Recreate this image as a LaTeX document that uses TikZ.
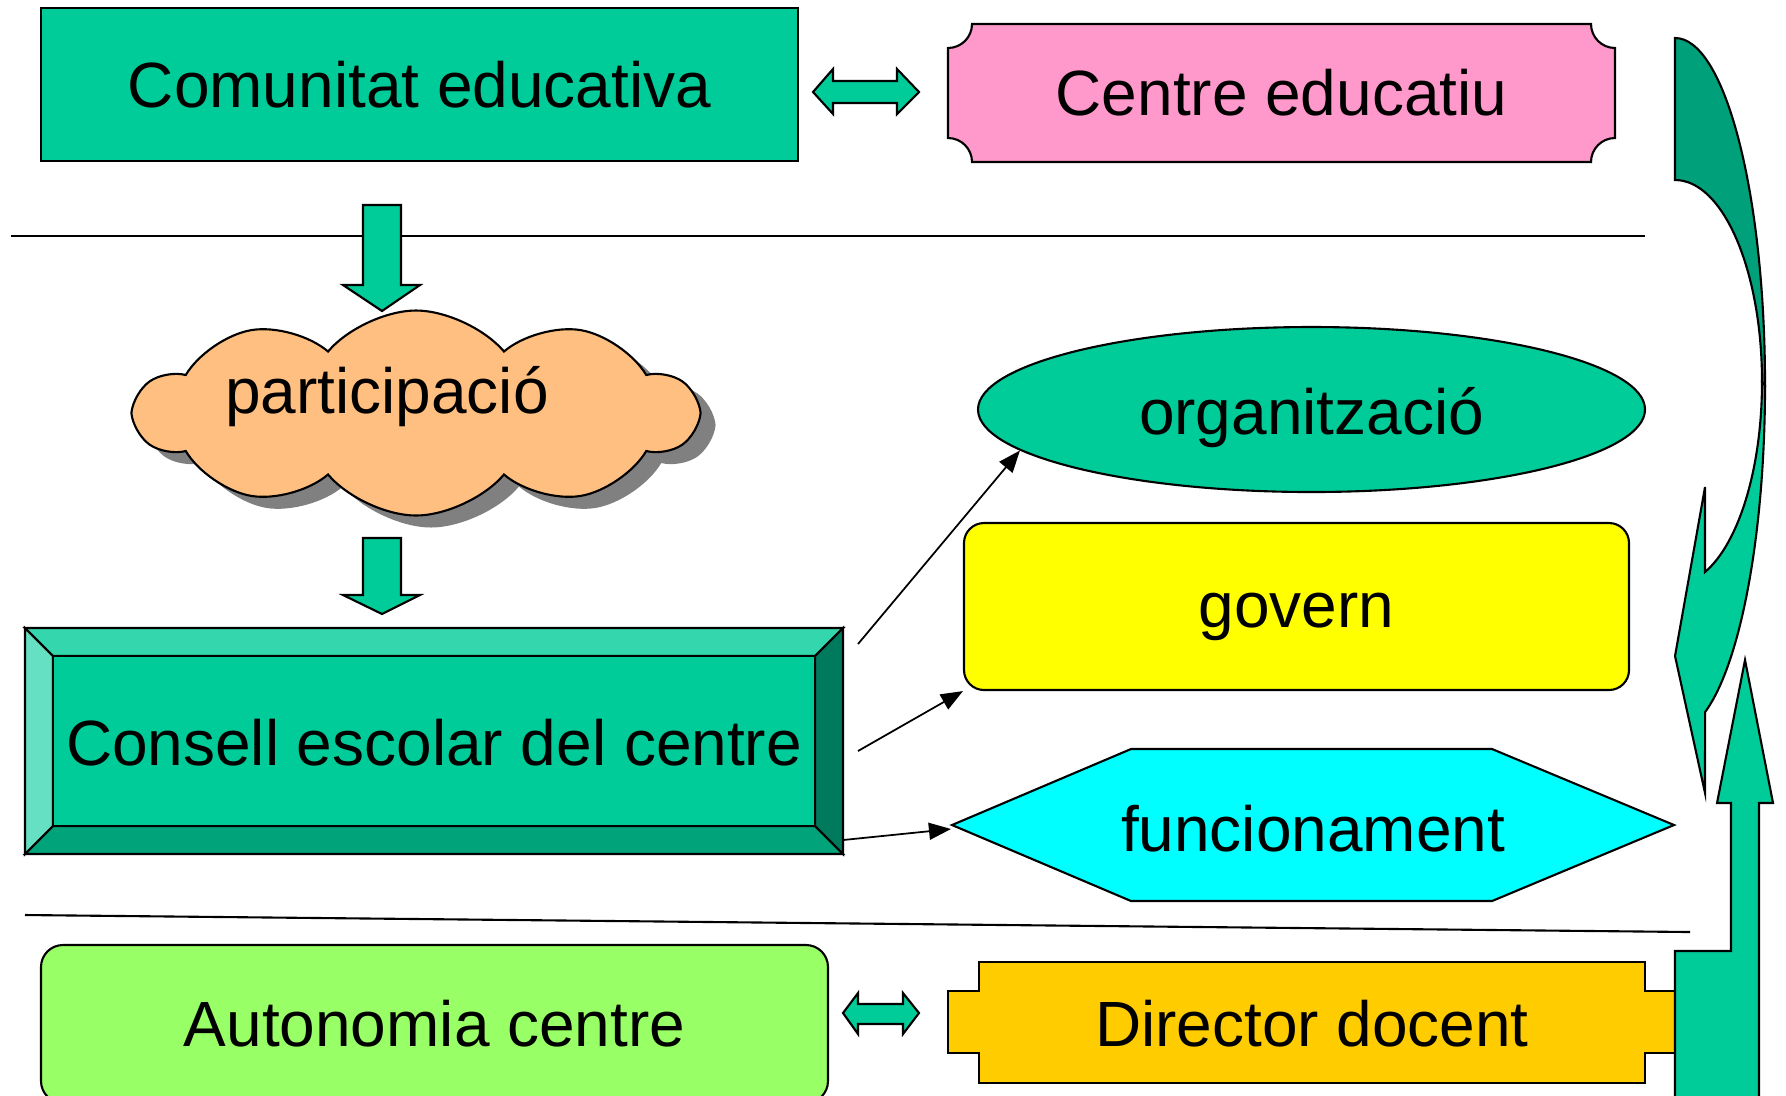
\documentclass[tikz,border=0pt]{standalone}
\usepackage{fontspec}
\setmainfont{Liberation Sans}
\usepackage{tikz}
\usetikzlibrary{shapes.symbols}
\usetikzlibrary{shapes.geometric}
\usetikzlibrary{shadows}
\usetikzlibrary{arrows.meta}

\definecolor{verd}{HTML}{00CC99}
\definecolor{verdfosc}{HTML}{00A07A}
\definecolor{rosa}{HTML}{FF99CC}
\definecolor{taronja}{HTML}{FFBF80}
\definecolor{groc}{HTML}{FFFF00}
\definecolor{cian}{HTML}{00FFFF}
\definecolor{verdclar}{HTML}{99FF66}
\definecolor{or}{HTML}{FFCC00}
\definecolor{bisdalt}{HTML}{33D6AD}
\definecolor{bisesq}{HTML}{66E0C2}
\definecolor{bisdret}{HTML}{007A5C}
\definecolor{bisbaix}{HTML}{00A37A}

\begin{document}
\begin{tikzpicture}[x=0.1mm, y=-0.1mm, line width=0.6pt,
    lbl/.style={font=\fontsize{18.2}{22}\selectfont, inner sep=0pt},
    blk/.style={draw, fill=verd, line join=miter},
    conn/.style={-{Triangle[length=2.2mm,width=1.7mm]}, line width=0.5pt}]
    \clip (0,0) rectangle (1786,1095);

    % separator lines
    \draw (11,236) -- (1645,236);
    \draw (25,915) -- (1690,932);

    % top row
    \node[lbl, draw, fill=verd, minimum width=75.7mm, minimum height=15.3mm] (comunitat) at (419.5,84.5) {Comunitat educativa};
    \draw[fill=rosa] (948,48) arc[start angle=270, end angle=360, radius=2.4mm] -- (1591,24)
        arc[start angle=180, end angle=270, radius=2.4mm] -- (1615,138)
        arc[start angle=90, end angle=180, radius=2.4mm] -- (972,162)
        arc[start angle=0, end angle=90, radius=2.4mm] -- cycle;
    \node[lbl, minimum width=66.7mm, minimum height=13.8mm] (centre) at (1281.5,93) {Centre educatiu};
    \draw[blk] (813,92) -- (833,69) -- (833,81) -- (897,81) -- (897,69) -- (919,92)
        -- (897,114) -- (897,103) -- (833,103) -- (833,114) -- cycle;

    % down arrows
    \draw[blk] (363,205) -- (401,205) -- (401,285) -- (420,285) -- (382,311) -- (343,285) -- (363,285) -- cycle;
    \draw[blk] (363,538) -- (401,538) -- (401,595) -- (420,595) -- (382,614) -- (343,595) -- (363,595) -- cycle;

    % cloud
    \node[cloud, cloud puffs=10, cloud puff arc=100, aspect=2.77, draw, fill=taronja, inner sep=0pt,
        minimum width=56mm, minimum height=20.5mm,
        drop shadow={shadow xshift=1.5mm, shadow yshift=-1.2mm, fill=black!50, opacity=1}] (nuvol) at (416,413) {};
    \node[lbl] (particip) at (387,397) {participació};

    % bevel box
    \draw[fill=bisdalt] (25,628) -- (843,628) -- (815,656) -- (53,656) -- cycle;
    \draw[fill=bisesq] (25,628) -- (53,656) -- (53,826) -- (25,854) -- cycle;
    \draw[fill=bisdret] (843,628) -- (843,854) -- (815,826) -- (815,656) -- cycle;
    \draw[fill=bisbaix] (25,854) -- (843,854) -- (815,826) -- (53,826) -- cycle;
    \draw[fill=verd] (53,656) rectangle (815,826);
    \node[lbl, minimum width=81.8mm, minimum height=22.6mm] (consell) at (434,743) {Consell escolar del centre};

    % right column
    \node[lbl, draw, ellipse, fill=verd, minimum width=66.7mm, minimum height=16.5mm,
        text height=18pt, text depth=3.8pt] (org) at (1311.5,409.5) {organització};
    \node[lbl, draw, rounded corners=2mm, fill=groc, minimum width=66.5mm, minimum height=16.7mm,
        text height=15.6pt, text depth=3.8pt] (govern) at (1296.5,606.5) {govern};
    \draw[fill=cian] (952,825) -- (1131,749) -- (1492,749) -- (1674,825) -- (1492,901) -- (1131,901) -- cycle;
    \node[lbl, minimum width=72.2mm, minimum height=15.2mm] (funcion) at (1313,829) {funcionament};

    % connectors
    \coordinate (c1) at (858,644);
    \coordinate (c2) at (858,751);
    \coordinate (c3) at (843,840);
    \draw[conn] (c1) -- (org.188);
    \draw[conn] (c2) -- (govern.south west);
    \draw[conn] (c3) -- (funcion.west);

    % bottom row
    \node[lbl, draw, rounded corners=2.2mm, fill=verdclar, minimum width=78.7mm, minimum height=15.8mm] (autonomia) at (434.5,1024) {Autonomia centre};
    \draw[blk] (843,1013) -- (858,993) -- (858,1004) -- (903,1004) -- (903,993) -- (919,1013)
        -- (903,1034) -- (903,1024) -- (858,1024) -- (858,1034) -- cycle;
    \draw[fill=or] (979,962) -- (1645,962) -- (1645,991) -- (1676,991) -- (1676,1053) -- (1645,1053)
        -- (1645,1083) -- (979,1083) -- (979,1053) -- (948,1053) -- (948,991) -- (979,991) -- cycle;
    \node[lbl, minimum width=72.8mm, minimum height=12.1mm] (director) at (1312,1024) {Director docent};

    % curved and bent arrows
    \draw[fill=verdfosc] (1675,38) arc[start angle=90, end angle=0, x radius=9mm, y radius=34.7mm]
        -- (1762,382) arc[start angle=0, end angle=90, x radius=8.7mm, y radius=20.2mm] -- cycle;
    \draw[blk] (1765,385) arc[start angle=0, end angle=-70.5, x radius=9mm, y radius=34.7mm]
        -- (1705,793) -- (1675,656) -- (1705,487) -- (1705,572)
        arc[start angle=-69.8, end angle=0, x radius=8.7mm, y radius=20.2mm] -- cycle;
    \draw[blk] (1745,660) -- (1773,803) -- (1759,803) -- (1759,1110) -- (1675,1110) -- (1675,951)
        -- (1731,951) -- (1731,803) -- (1717,803) -- cycle;
\end{tikzpicture}
\end{document}
